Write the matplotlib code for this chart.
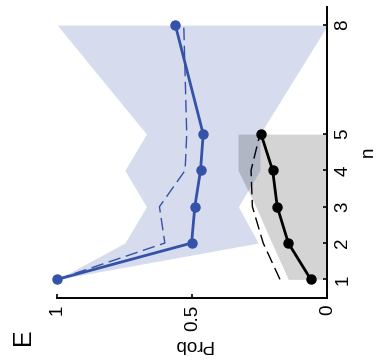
import numpy as np
import matplotlib
matplotlib.use("Agg")
import matplotlib.pyplot as plt

plt.rcParams['font.family'] = ['Liberation Sans', 'DejaVu Sans']

#%%
# data (n on the vertical axis, Prob on the horizontal one: the panel is turned)
n_blue = [1, 2, 3, 4, 5, 8]
blue_solid = [1.0, 0.503, 0.491, 0.470, 0.460, 0.563]
blue_dashed = [1.0, 0.602, 0.622, 0.527, 0.521, 0.532]
blue_upper = [1.0, 0.75, 0.67, 0.75, 0.67, 1.0]
blue_lower = [1.0, 0.256, 0.33, 0.25, 0.25, 0.0]

n_black = [1, 2, 3, 4, 5]
black_solid = [0.062, 0.145, 0.186, 0.203, 0.246]
black_dashed = [0.176, 0.238, 0.278, 0.283, 0.25]
gray_upper = [0.145, 0.206, 0.265, 0.331, 0.331]
gray_lower = [0, 0, 0, 0, 0]

n_ticks = [1, 2, 3, 4, 5, 8]
prob_ticks = [0, 0.5, 1]
prob_ticklabels = ['0', '0.5', '1']

blue = '#3352a8'

#%%
fig = plt.figure(figsize=(3.77, 3.60), dpi=100)
ax = fig.add_axes([0.152, 0.1736, 0.8687 - 0.152, 0.9806 - 0.1736])

ax.fill_betweenx(n_blue, blue_lower, blue_upper, color=blue, alpha=0.2, lw=0)
ax.fill_betweenx(n_black, gray_lower, gray_upper, color='black', alpha=0.17, lw=0)

ax.plot(blue_dashed, n_blue, color=blue, lw=1.0, dashes=(9, 4), clip_on=False)
ax.plot(black_dashed, n_black, color='black', lw=1.0, dashes=(9, 4), clip_on=False)
ax.plot(blue_solid, n_blue, color=blue, lw=2.0, marker='o', ms=6.5, clip_on=False)
ax.plot(black_solid, n_black, color='black', lw=2.0, marker='o', ms=6.5, clip_on=False)

ax.set_xlim(1, 0)
ax.set_ylim(0.5, 8.5)

for s in ['top', 'left']:
    ax.spines[s].set_visible(False)
for s in ['bottom', 'right']:
    ax.spines[s].set_linewidth(1.4)

ax.yaxis.tick_right()
ax.yaxis.set_label_position('right')
ax.set_yticks(n_ticks)
ax.set_yticklabels([str(v) for v in n_ticks], rotation=90, va='center', ha='left')
ax.set_xticks(prob_ticks)
ax.set_xticklabels(prob_ticklabels, rotation=90, ha='center', va='top')
ax.tick_params(direction='in', length=3, width=1.2, labelsize=13.5, pad=5)

ax.set_xlabel('Prob', fontsize=13.5, rotation=180, labelpad=4)
ax.set_ylabel('n', fontsize=13.5, rotation=90, labelpad=6)

fig.text(23 / 377, 1 - 336.5 / 360, 'E', fontsize=18, rotation=90, ha='center', va='center')

fig.savefig('out.png', dpi=100)
